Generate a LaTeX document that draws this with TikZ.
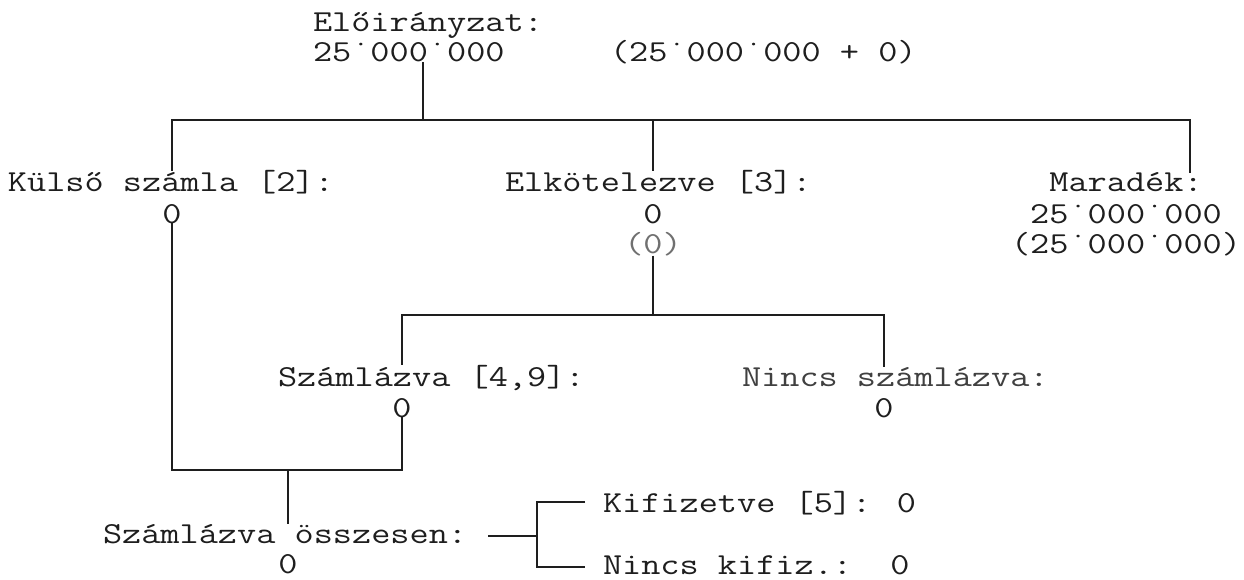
\documentclass[tikz,border=0pt]{standalone}
\usepackage{fontspec}
\usepackage{graphicx}
\usetikzlibrary{calc}
\definecolor{ink}{HTML}{1E1E1E}
\definecolor{lightink}{HTML}{707070}
\definecolor{midink}{HTML}{404040}
\newcommand{\wtxt}[1]{\scalebox{1.22}[1]{#1}}
\tikzset{
  txt/.style={inner sep=0pt, outer sep=0pt, text=ink, font=\ttfamily\fontsize{30.5}{30}\selectfont},
  ln/.style={draw=ink, line width=1.5pt},
}
\begin{document}
\begin{tikzpicture}[x=1pt,y=-1pt]
\useasboundingbox[fill=white] (0,0) rectangle (1244,580);
% top
\node[txt, anchor=base west] (t1) at (313,32) {\wtxt{Előirányzat:}};
\node[txt, anchor=base west] (t2) at (313,62) {\wtxt{25˙000˙000}};
\node[txt, anchor=base west] (t3) at (610,62) {\wtxt{(25˙000˙000 + 0)}};
% level 1
\node[txt, anchor=base west] (ks) at (8,192) {\wtxt{Külső számla [2]:}};
\node[txt, anchor=base] (ks0) at (172,223) {\wtxt{0}};
\node[txt, anchor=base west] (el) at (505,192) {\wtxt{Elkötelezve [3]:}};
\node[txt, anchor=base] (el0) at (653,223) {\wtxt{0}};
\node[txt, anchor=base, text=lightink] (elp) at (653,253) {\wtxt{(0)}};
\node[txt, anchor=base] (ma) at (1126,192) {\wtxt{Maradék:}};
\node[txt, anchor=base] (ma1) at (1126,223) {\wtxt{25˙000˙000}};
\node[txt, anchor=base] (ma2) at (1126,253) {\wtxt{(25˙000˙000)}};
% level 2
\node[txt, anchor=base west] (sz) at (278,386) {\wtxt{Számlázva [4,9]:}};
\node[txt, anchor=base] (sz0) at (402,417) {\wtxt{0}};
\node[txt, anchor=base west, text=midink] (ns) at (742,386) {\wtxt{Nincs számlázva:}};
\node[txt, anchor=base] (ns0) at (884,417) {\wtxt{0}};
% level 3
\node[txt, anchor=base west] (os) at (103,543) {\wtxt{Számlázva összesen:}};
\node[txt, anchor=base] (os0) at (288,573) {\wtxt{0}};
\node[txt, anchor=base west] (kf) at (603,512) {\wtxt{Kifizetve [5]: 0}};
\node[txt, anchor=base west] (nk) at (603,574) {\wtxt{Nincs kifiz.:\ \ 0}};
% junctions
\coordinate (j1) at (423,120);
\coordinate (mr) at (1190,120);
\coordinate (j2) at (653,315);
\coordinate (j3) at (288,470);
\coordinate (d0) at (488,536);
\coordinate (bm) at (537,536);
\coordinate (bt) at (585,502);
\coordinate (bb) at (585,567);
% connectors
\draw[ln] (t2.south -| j1) -- (j1);
\draw[ln] (ks.north -| ks0) |- (j1) -| (mr |- ma.north);
\draw[ln] (el0 |- j1) -- (el0 |- el.north);
\draw[ln] (elp.south) -- (j2);
\draw[ln] (sz0 |- sz.north) |- (j2) -| (ns0 |- ns.north);
\draw[ln] (ks0.south) |- (sz0 |- j3) -- (sz0.south);
\draw[ln] (j3) -- (os.north -| j3);
\draw[ln] (d0) -- (bm);
\draw[ln] (bt) -| (bm) |- (bb);
\end{tikzpicture}
\end{document}
